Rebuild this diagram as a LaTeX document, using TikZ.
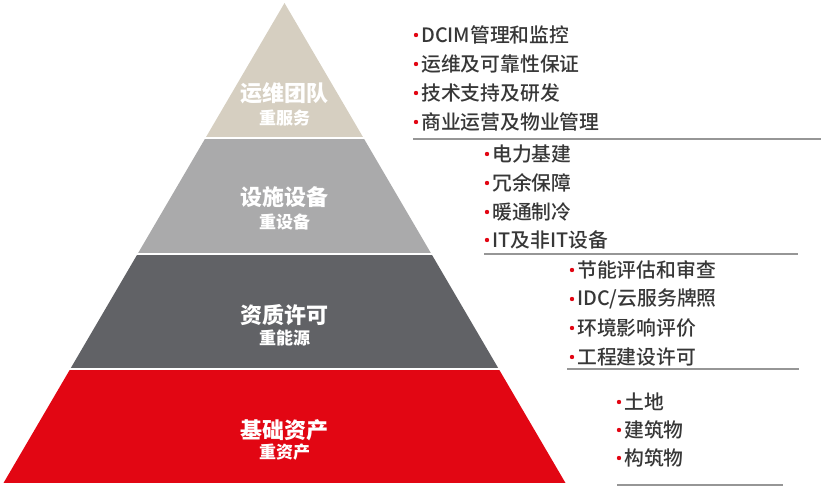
\documentclass[tikz,border=0pt]{standalone}
\usepackage{fontspec}
\newfontfamily\cjk{Noto Sans CJK SC}
\newfontfamily\cjkmed{Noto Sans CJK SC Medium}

\definecolor{PyrBeige}{RGB}{214,207,193}
\definecolor{PyrLightGrey}{RGB}{170,170,171}
\definecolor{PyrDarkGrey}{RGB}{97,98,102}
\definecolor{PyrRed}{RGB}{226,6,19}
\definecolor{ListGrey}{RGB}{55,55,55}
\definecolor{RuleGrey}{RGB}{150,150,150}

\begin{document}
\begin{tikzpicture}[x=1pt, y=-1pt,
    title/.style={text=white, font=\cjk\bfseries\fontsize{22}{22}\selectfont, inner sep=0pt},
    subtitle/.style={text=white, font=\cjk\bfseries\fontsize{17}{17}\selectfont, inner sep=0pt},
    item/.style={anchor=west, text=ListGrey, font=\cjkmed\fontsize{19.8}{19.8}\selectfont, inner sep=0pt},
    dot/.style={circle, fill=PyrRed, inner sep=0pt, minimum size=4.4pt},
    rule/.style={draw=RuleGrey, line width=1.6pt}]
        \useasboundingbox (0,0) rectangle (833,486);

        % Pyramid
        \begin{scope}
            \clip (284.5,3) -- (565.5,483) -- (3.5,483) -- cycle;
            \fill[PyrBeige] (0,0) rectangle (833,137.5);
            \fill[PyrLightGrey] (0,139.5) rectangle (833,253.5);
            \fill[PyrDarkGrey] (0,255.5) rectangle (833,368.5);
            \fill[PyrRed] (0,370.5) rectangle (833,483);
        \end{scope}

        % Layer 1
        \node[title] (l1) at (284.5,93) {运维团队};
        \node[subtitle] (l1s) at (284.5,118) {重服务};
        \node[dot] (d1a) at (416,35) {};
        \node[item] (t1a) at (421,35) {DCIM管理和监控};
        \node[dot] (d1b) at (416,64) {};
        \node[item] (t1b) at (421,64) {运维及可靠性保证};
        \node[dot] (d1c) at (416,93) {};
        \node[item] (t1c) at (421,93) {技术支持及研发};
        \node[dot] (d1d) at (416,122) {};
        \node[item] (t1d) at (421,122) {商业运营及物业管理};
        \draw[rule] (413,139) -- (821,139);

        % Layer 2
        \node[title] (l2) at (284.5,197) {设施设备};
        \node[subtitle] (l2s) at (284.5,222) {重设备};
        \node[dot] (d2a) at (487,154) {};
        \node[item] (t2a) at (492,154) {电力基建};
        \node[dot] (d2b) at (487,183) {};
        \node[item] (t2b) at (492,183) {冗余保障};
        \node[dot] (d2c) at (487,212) {};
        \node[item] (t2c) at (492,212) {暖通制冷};
        \node[dot] (d2d) at (487,240) {};
        \node[item] (t2d) at (492,240) {IT及非IT设备};
        \draw[rule] (484,254) -- (798,254);

        % Layer 3
        \node[title] (l3) at (284.5,315) {资质许可};
        \node[subtitle] (l3s) at (284.5,338) {重能源};
        \node[dot] (d3a) at (572,270) {};
        \node[item] (t3a) at (577,270) {节能评估和审查};
        \node[dot] (d3b) at (572,299) {};
        \node[item] (t3b) at (577,299) {IDC/云服务牌照};
        \node[dot] (d3c) at (572,328) {};
        \node[item] (t3c) at (577,328) {环境影响评价};
        \node[dot] (d3d) at (572,357) {};
        \node[item] (t3d) at (577,357) {工程建设许可};
        \draw[rule] (567,369) -- (799,369);

        % Layer 4
        \node[title] (l4) at (284.5,430) {基础资产};
        \node[subtitle] (l4s) at (284.5,452) {重资产};
        \node[dot] (d4a) at (619,402) {};
        \node[item] (t4a) at (624,402) {土地};
        \node[dot] (d4b) at (619,430) {};
        \node[item] (t4b) at (624,430) {建筑物};
        \node[dot] (d4c) at (619,458) {};
        \node[item] (t4c) at (624,458) {构筑物};
        \draw[rule] (617,485) -- (783,485);
    \end{tikzpicture}
\end{document}
